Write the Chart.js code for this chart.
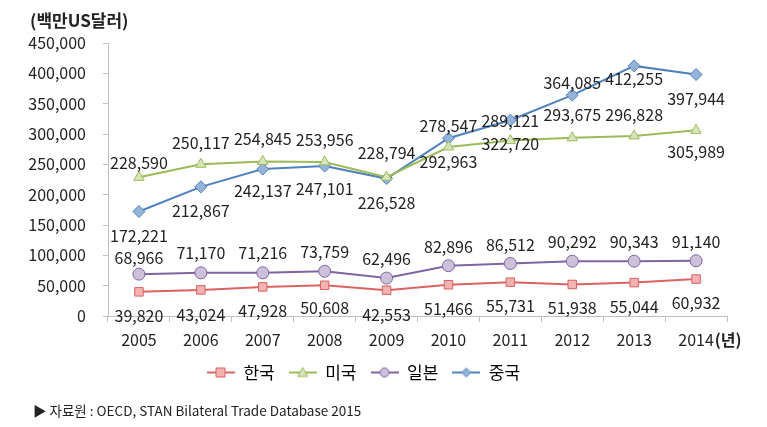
<!DOCTYPE html>
<html>
<head>
<meta charset="utf-8">
<script src="https://cdn.jsdelivr.net/npm/chart.js@4"></script>
<style>
	html, body { margin:0; padding:0; background:#fff; }
	#wrap { position:relative; width:767px; height:427px; }
	#note { position:absolute; left:33px; top:400px; font:13.5px 'Noto Sans CJK KR', sans-serif; color:#222; }
</style>
</head>
<body>
<div id="wrap">
	<canvas id="chart" width="767" height="427"></canvas>
	<div id="note">▶ 자료원 : OECD, STAN Bilateral Trade Database 2015</div>
</div>
<script>
// data
const years = ['2005','2006','2007','2008','2009','2010','2011','2012','2013','2014'];
const korea = [39820, 43024, 47928, 50608, 42553, 51466, 55731, 51938, 55044, 60932];
const usa   = [228590, 250117, 254845, 253956, 228794, 278547, 289121, 293675, 296828, 305989];
const japan = [68966, 71170, 71216, 73759, 62496, 82896, 86512, 90292, 90343, 91140];
const china = [172221, 212867, 242137, 247101, 226528, 292963, 322720, 364085, 412255, 397944];
const seriesNames = ['한국','미국','일본','중국'];
const yMax = 450000, yStep = 50000;

// where each value label sits relative to its point (px, + is down), as placed in the original
const koreaLabelDy = [24, 25, 24, 23, 25, 24, 24, 23, 24, 24];
const usaLabelDy   = [-14, -21, -22, -22, -24, -21, -20, -23, -21, 22];
const japanLabelDy = [-16, -20, -20, -19, -19, -19, -19, -19, -19, -19];
const chinaLabelDy = [24, 24, 22, 23, 24, 24, 24, -12, 13, 24];

const FONT = "'Noto Sans CJK KR', 'Noto Sans', sans-serif";
Chart.defaults.font.family = FONT;
Chart.defaults.color = '#222';

const fmt = v => Number(v).toLocaleString('en-US');

// legend swatch: short line with the marker in the middle
function legendIcon(ds){
	const c = document.createElement('canvas');
	c.width = 28; c.height = 14;
	const g = c.getContext('2d');
	g.strokeStyle = ds.borderColor; g.lineWidth = 2;
	g.beginPath(); g.moveTo(0,7); g.lineTo(28,7); g.stroke();
	g.fillStyle = ds.pointBackgroundColor; g.strokeStyle = ds.pointBorderColor; g.lineWidth = 1;
	g.beginPath();
	if(ds.pointStyle === 'rect'){ g.rect(9,2.5,9,9); }
	else if(ds.pointStyle === 'triangle'){ g.moveTo(14,2); g.lineTo(19,11); g.lineTo(9,11); g.closePath(); }
	else if(ds.pointStyle === 'circle'){ g.arc(14,7,4.5,0,Math.PI*2); }
	else { g.moveTo(14,2.5); g.lineTo(18.5,7); g.lineTo(14,11.5); g.lineTo(9.5,7); g.closePath(); }
	g.fill(); g.stroke();
	return c;
}

const valueLabels = {
	id:'valueLabels',
	afterDatasetsDraw(chart){
		const ctx = chart.ctx;
		ctx.save();
		ctx.font = '16px ' + FONT;
		ctx.fillStyle = '#222';
		ctx.textAlign = 'center';
		ctx.textBaseline = 'middle';
		chart.data.datasets.forEach((ds,i)=>{
			chart.getDatasetMeta(i).data.forEach((pt,j)=>{
				ctx.fillText(fmt(ds.data[j]), pt.x, pt.y + ds.labelDy[j]);
			});
		});
		ctx.restore();
	}
};

const extraText = {
	id:'extraText',
	afterDraw(chart){
		const ctx = chart.ctx;
		const xs = chart.scales.x;
		ctx.save();
		ctx.fillStyle = '#222';
		ctx.font = 'bold 17px ' + FONT;
		ctx.textBaseline = 'middle';
		ctx.textAlign = 'left';
		ctx.fillText('(백만US달러)', 30, 21);
		// unit after last year label
		ctx.font = '16px ' + FONT;
		const lastX = xs.getPixelForValue(years.length - 1);
		const w = ctx.measureText(years[years.length-1]).width;
		ctx.font = 'bold 16px ' + FONT;
		ctx.fillText('(년)', lastX + w/2 + 1, 340);
		ctx.restore();
	}
};

const datasets = [
	{ label: seriesNames[0], data: korea, labelDy: koreaLabelDy, borderColor:'#DA6462', pointBackgroundColor:'#F2B3B2', pointBorderColor:'#D9605E', pointStyle:'rect', pointRadius:6 },
	{ label: seriesNames[1], data: usa, labelDy: usaLabelDy, borderColor:'#9BBB59', pointBackgroundColor:'#D7E4BD', pointBorderColor:'#9BBB59', pointStyle:'triangle', pointRadius:6 },
	{ label: seriesNames[2], data: japan, labelDy: japanLabelDy, borderColor:'#8064A2', pointBackgroundColor:'#CCC1DA', pointBorderColor:'#8064A2', pointStyle:'circle', pointRadius:6 },
	{ label: seriesNames[3], data: china, labelDy: chinaLabelDy, borderColor:'#4F81BD', pointBackgroundColor:'#95B3D7', pointBorderColor:'#4F81BD', pointStyle:'rectRot', pointRadius:6 }
];
datasets.forEach(d=>{ d.borderWidth = 2; d.pointBorderWidth = 1; d.tension = 0; d.fill = false; });

new Chart(document.getElementById('chart'), {
	type:'line',
	data:{ labels: years, datasets },
	options:{
		responsive:false,
		animation:false,
		layout:{ padding:{ top:43, right:40, left:0, bottom:36 } },
		scales:{
			x:{
				offset:true,
				grid:{ drawOnChartArea:false, offset:true, tickLength:6, color:'#BFBFBF' },
				border:{ color:'#BFBFBF' },
				ticks:{ font:{ size:16 }, color:'#222', padding:8, maxRotation:0 },
				afterFit(s){ s.height = 34; }
			},
			y:{
				min:0, max:yMax,
				grid:{ drawOnChartArea:false, tickLength:5, color:'#BFBFBF' },
				border:{ color:'#BFBFBF' },
				ticks:{ stepSize:yStep, font:{ size:16 }, color:'#222', padding:17, callback:v=>fmt(v) },
				afterFit(s){ s.width = 108; }
			}
		},
		plugins:{
			legend:{
				position:'bottom',
				labels:{
					usePointStyle:true,
					pointStyleWidth:28,
					font:{ size:17 },
					color:'#222',
					padding:14,
					generateLabels(chart){
						return chart.data.datasets.map((ds,i)=>({
							text: ds.label,
							pointStyle: legendIcon(ds),
							fillStyle: ds.pointBackgroundColor,
							strokeStyle: ds.borderColor,
							lineWidth: 0,
							hidden: false,
							datasetIndex: i
						}));
					}
				}
			},
			tooltip:{ enabled:false }
		}
	},
	plugins:[valueLabels, extraText]
});
</script>
</body>
</html>
